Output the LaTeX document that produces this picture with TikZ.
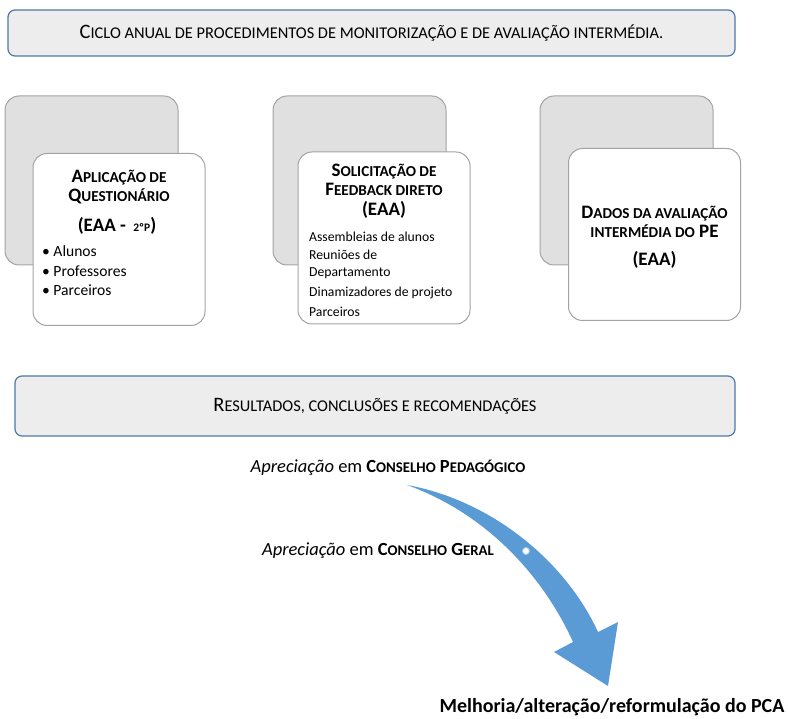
\documentclass[tikz,border=0pt]{standalone}
\usepackage{fontspec}
\setmainfont{Carlito}
\usepackage{xcolor}

\definecolor{bandfill}{HTML}{EDEDED}
\definecolor{bandline}{HTML}{4F78A8}
\definecolor{backfill}{HTML}{E0E0E0}
\definecolor{cardline}{HTML}{A3A3A3}
\definecolor{arrowblue}{HTML}{5B9BD5}

% Fake small caps: rest of the word at 80% of the current size.
\makeatletter
\newcommand\lc[1]{{\@tempdima=\f@size pt\@tempdima=0.8\@tempdima
  \fontsize{\strip@pt\@tempdima}{\f@baselineskip}\selectfont #1}}
\makeatother

\begin{document}
\begin{tikzpicture}[x=1pt, y=-1pt,
    band/.style={draw=bandline, fill=bandfill, line width=1.2pt, rounded corners=7pt,
      minimum height=46pt, font=\fontsize{20.5}{22}\selectfont, text=black},
    backcard/.style={draw=cardline, fill=backfill, line width=1pt, rounded corners=14pt,
      minimum width=173pt, minimum height=169pt},
    frontcard/.style={draw=cardline, fill=white, line width=1pt, rounded corners=14pt,
      minimum width=172pt, minimum height=172pt},
    cardtitle/.style={font=\bfseries\fontsize{19}{19.5}\selectfont, align=center, inner sep=0pt},
    cardlist/.style={font=\fontsize{15.6}{19.5}\selectfont, align=left, inner sep=0pt},
    smalllist/.style={font=\fontsize{13.7}{19}\selectfont, align=left, inner sep=0pt},
    remark/.style={font=\fontsize{18.5}{20}\selectfont, inner sep=0pt}]

	\useasboundingbox (0,0) rectangle (788,719);

	% Top band.
	\node[band, minimum width=727pt] (ciclo) at (371.5,33)
		{C\lc{ICLO ANUAL DE PROCEDIMENTOS DE MONITORIZAÇÃO E DE AVALIAÇÃO INTERMÉDIA.}};

	% Card definitions.
	\node[backcard]  (back_quest) at  (91.5,180.5) {};
	\node[frontcard] (card_quest) at   (119,239.5) {};
	\node[backcard]  (back_feed)  at (359.5,180.5) {};
	\node[frontcard] (card_feed)  at     (384,238) {};
	\node[backcard]  (back_dados) at (626.5,180.5) {};
	\node[frontcard] (card_dados) at (654.5,234.5) {};

	% Card texts.
	\node[cardtitle] (quest_title) at (119,187)
		{A\lc{PLICAÇÃO DE}\\Q\lc{UESTIONÁRIO}};
	\node[cardtitle, font=\bfseries\fontsize{19}{20}\selectfont] (quest_eaa) at (117,226)
		{(EAA - \,{\fontsize{11.5}{12}\selectfont 2ºP})};
	\node[cardlist, anchor=west] (quest_list) at (42,271)
		{• Alunos\\• Professores\\• Parceiros};

	\node[cardtitle] (feed_title) at (384,191)
		{S\lc{OLICITAÇÃO DE}\\F\lc{EEDBACK DIRETO}\\(EAA)};
	\node[smalllist, anchor=north west] (feed_list) at (309,232)
		{Assembleias de alunos\\[-1pt]Reuniões de\\[-2pt]Departamento\\[1pt]Dinamizadores de projeto\\[1pt]Parceiros};

	\node[cardtitle] (dados_title) at (654.5,222)
		{D\lc{ADOS DA AVALIAÇÃO}\\\lc{INTERMÉDIA DO} PE};
	\node[cardtitle] (dados_eaa) at (654.5,260) {(EAA)};

	% Results band.
	\node[band, minimum width=720pt, minimum height=60pt] (resultados) at (375,406)
		{R\lc{ESULTADOS, CONCLUSÕES E RECOMENDAÇÕES}};

	% Remarks and the curved arrow.
	\node[remark] (cons_ped) at (388,468)
		{\textit{Apreciação} em \textbf{C\lc{ONSELHO} P\lc{EDAGÓGICO}}};
	\node[remark] (cons_ger) at (378,551)
		{\textit{Apreciação} em \textbf{C\lc{ONSELHO} G\lc{ERAL}}};

	\fill[arrowblue] (407,485) .. controls (490,500) and (565,560) .. (598,632)
		-- (618,622) -- (608,686) -- (554,652) -- (573,642)
		.. controls (545,580) and (490,515) .. (407,485) -- cycle;
	\node[circle, draw=arrowblue!55, fill=white, line width=0.9pt, inner sep=0pt,
		minimum size=7pt] (arrow_dot) at (526,551) {};

	\node[font=\bfseries\fontsize{20}{22}\selectfont, inner sep=0pt] (melhoria) at (612,707)
		{Melhoria/alteração/reformulação do PCA};

\end{tikzpicture}
\end{document}
